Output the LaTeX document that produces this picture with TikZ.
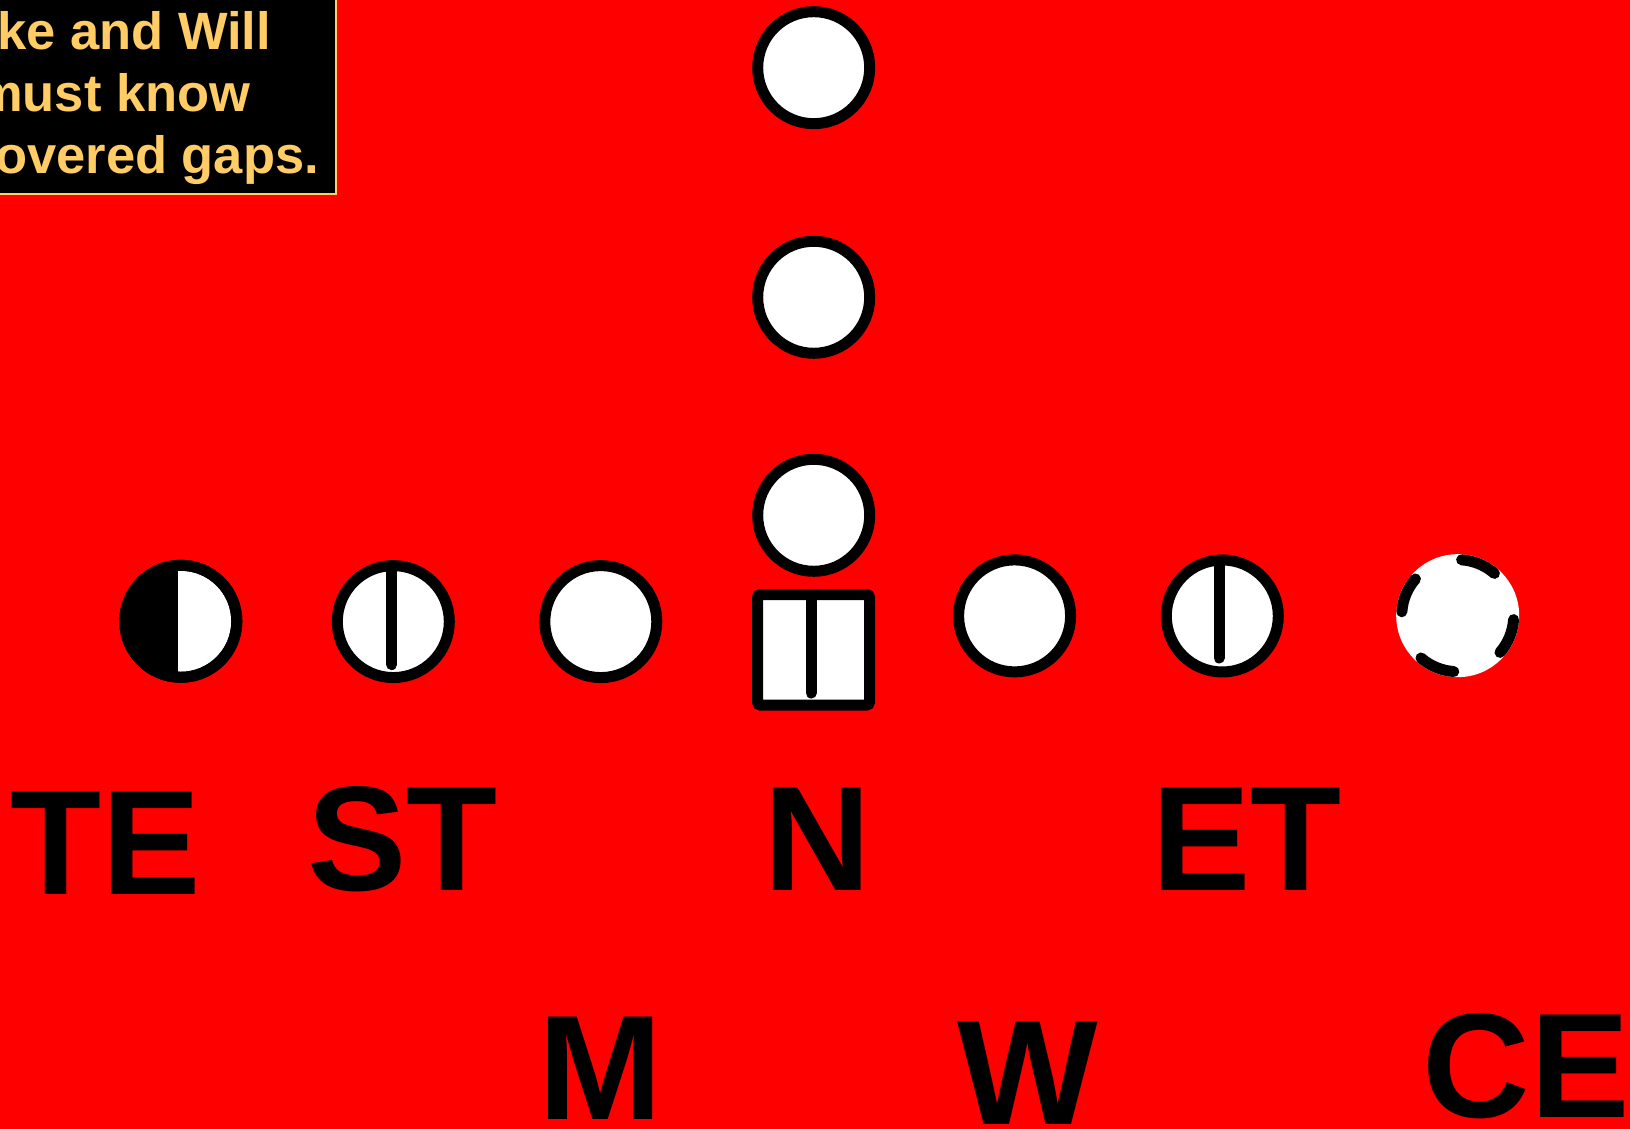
\documentclass[tikz,border=0pt]{standalone}
\usepackage{fontspec}
\setmainfont{Liberation Sans}
\usetikzlibrary{calc}
\definecolor{fieldred}{HTML}{FF0000}
\definecolor{notegold}{HTML}{FFCC66}

\tikzset{
  player/.style={circle, draw=black, fill=white, line width=11pt,
    minimum size=112pt, inner sep=0pt, outer sep=0pt},
  splitline/.style={black, line width=11pt, line cap=round},
  poslabel/.style={black, anchor=base, inner sep=0pt,
    font=\fontsize{149}{149}\selectfont\bfseries},
  noteline/.style={notegold, anchor=base west, inner sep=0pt,
    font=\fontsize{52.5}{60}\selectfont\bfseries}
}

\begin{document}
\begin{tikzpicture}[x=1pt, y=1pt]
  \useasboundingbox (0,0) rectangle (1630,1129);
  \fill[fieldred] (0,0) rectangle (1630,1129);

  % note box, cut by the top left corner
  \begin{scope}
    \clip (0,0) rectangle (1630,1129);
    \draw[notegold, fill=black, line width=1.5pt] (-10,935) rectangle (336,1140);
    \node[noteline] (note1) at (-3,1079) {ke and Will};
    \node[noteline] (note2) at (-24,1017.3) {must know};
    \node[noteline] (note3) at (-5,955.7) {overed gaps.};
  \end{scope}

  % backfield
  \node[player] (qb) at (813.7,613.7) {};
  \node[player] (fb) at (813.7,831.7) {};
  \node[player] (tb) at (813.7,1061.3) {};

  % line
  \node[player] (lg) at (600.8,507.4) {};
  \node[player] (lt) at (393.3,507.4) {};
  \node[player] (lte) at (180.8,507.7) {};
  \node[player] (rg) at (1014.6,513.1) {};
  \node[player] (rt) at (1222.3,513) {};
  \node[rectangle, draw=black, fill=white, line width=11pt, rounded corners=3pt,
    minimum width=112pt, minimum height=110.5pt, inner sep=0pt, outer sep=0pt]
    (ctr) at (813.5,479.2) {};

  % left end: half filled
  \begin{scope}
    \clip (lte.center) circle (56);
    \fill[black] ($(lte.center)+(-70,-70)$) rectangle ($(lte.center)+(-3,70)$);
  \end{scope}
  \draw[line width=11pt] (lte.center) circle (56);

  \draw[splitline] ($(lt.north)+(-1.6,0)$) -- ($(lt.south)+(-1.6,13)$);
  \draw[splitline] ($(rt.north)+(-3.3,0)$) -- ($(rt.south)+(-3.3,14)$);
  \draw[splitline] ($(ctr.north)+(-2.3,0)$) -- ($(ctr.south)+(-2.3,12)$);

  % right end: dashed
  \coordinate (rte) at (1457.7,513.3);
  \fill[white] (rte) circle (61.5);
  \draw[splitline] (rte) ++(49:56) arc[start angle=49, end angle=86, radius=56];
  \draw[splitline] (rte) ++(139:56) arc[start angle=139, end angle=176, radius=56];
  \draw[splitline] (rte) ++(229:56) arc[start angle=229, end angle=266, radius=56];
  \draw[splitline] (rte) ++(319:56) arc[start angle=319, end angle=356, radius=56];

  % defense
  \node[poslabel] (te) at (106,234) {TE};
  \node[poslabel] (st) at (402.5,238.3) {ST};
  \node[poslabel] (n) at (817.5,238.1) {N};
  \node[poslabel] (et) at (1246.7,238.3) {ET};
  \node[poslabel] (m) at (600.8,9.4) {M};
  \node[poslabel] (w) at (1028,4.2) {W};
  \node[poslabel] (ce) at (1526,11.3) {CE};
\end{tikzpicture}
\end{document}
